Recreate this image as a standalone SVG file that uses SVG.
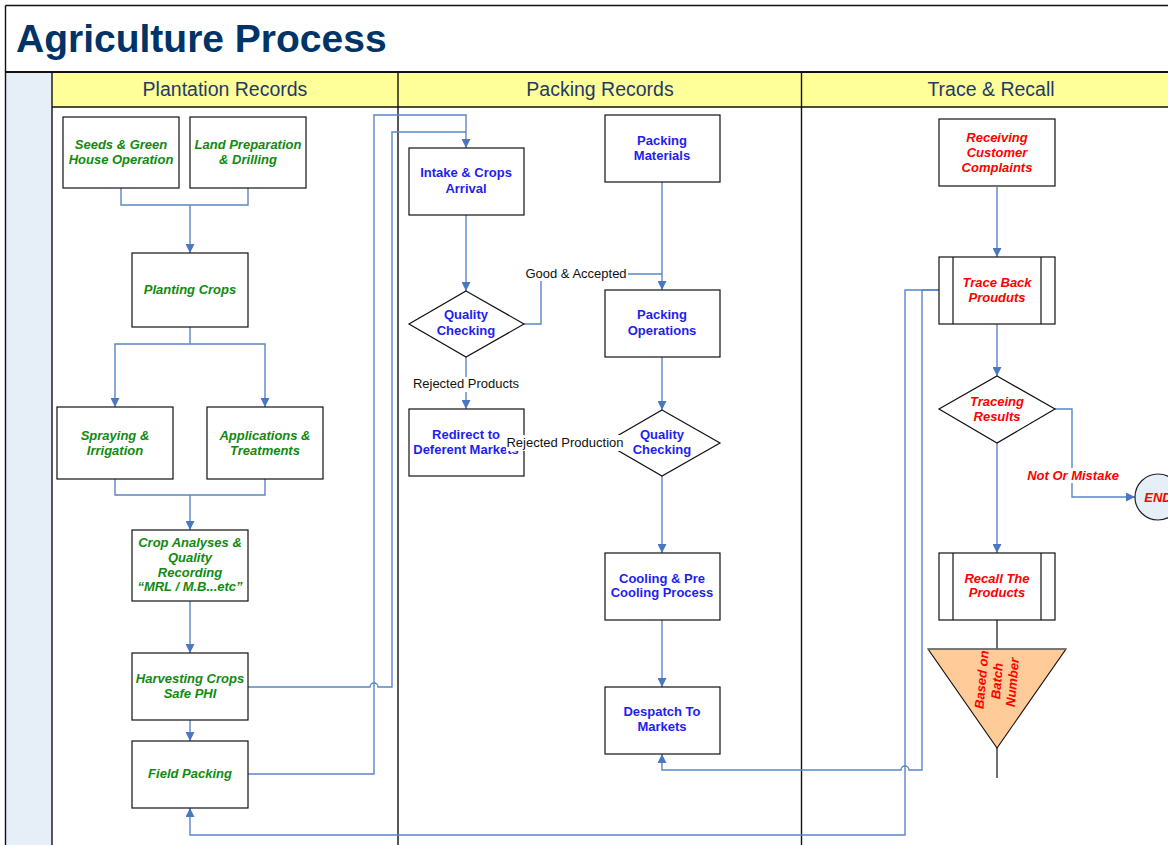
<svg xmlns="http://www.w3.org/2000/svg" width="1168" height="845" viewBox="0 0 1168 845">
<style>
text{font-family:"Liberation Sans",Arial,sans-serif}
.title{font-size:39px;font-weight:bold;fill:#003366}
.lane{font-size:19.5px;fill:#1F3A66;text-anchor:middle}
.box{fill:#fff;stroke:#111;stroke-width:1.2}
.g{font-size:13px;font-weight:bold;font-style:italic;fill:#118A11;text-anchor:middle}
.b{font-size:13px;font-weight:bold;fill:#1E1EF0;text-anchor:middle}
.r{font-size:13px;font-weight:bold;font-style:italic;fill:#FF0000;text-anchor:middle}
.lbl{font-size:13px;fill:#111;text-anchor:middle}
.c{fill:none;stroke:#5A86C8;stroke-width:1.4}
.bg{fill:#fff}
.frame{stroke:#111;stroke-width:1.4;fill:none}
</style>
<defs>
<marker id="ah" viewBox="0 0 10 10" refX="10" refY="5" markerWidth="9" markerHeight="9" markerUnits="userSpaceOnUse" orient="auto">
<path d="M0,0 L10,5 L0,10 z" fill="#4A78C0"/>
</marker>
</defs>
<rect x="0" y="0" width="1168" height="845" fill="#fff"/>
<g id="frame">
<rect x="5.5" y="72" width="46.5" height="773" fill="#E6EEF8"/>
<rect x="52" y="72" width="1116" height="35" fill="#FFFF99"/>
<line x1="5.5" y1="5.5" x2="1168" y2="5.5" class="frame"/>
<line x1="5.5" y1="5.5" x2="5.5" y2="845" class="frame"/>
<line x1="5.5" y1="72" x2="1168" y2="72" stroke="#111" stroke-width="2"/>
<line x1="52" y1="107" x2="1168" y2="107" class="frame"/>
<line x1="52" y1="72" x2="52" y2="845" class="frame"/>
<line x1="398" y1="72" x2="398" y2="845" class="frame"/>
<line x1="801.5" y1="72" x2="801.5" y2="845" class="frame"/>
<text x="16" y="52" class="title">Agriculture Process</text>
<text x="225" y="96" class="lane">Plantation Records</text>
<text x="600" y="96" class="lane">Packing Records</text>
<text x="991" y="96" class="lane">Trace &amp; Recall</text>
</g>
<g id="connectors">
<path class="c" d="M121,188 V205 H248 V188"/>
<path class="c" d="M190,205 V253" marker-end="url(#ah)"/>
<path class="c" d="M190,327 V344 H115 V407" marker-end="url(#ah)"/>
<path class="c" d="M190,344 H265 V407" marker-end="url(#ah)"/>
<path class="c" d="M115,479 V495 H265 V479"/>
<path class="c" d="M190,495 V530" marker-end="url(#ah)"/>
<path class="c" d="M190,601 V653" marker-end="url(#ah)"/>
<path class="c" d="M190,720 V741" marker-end="url(#ah)"/>
<path class="c" d="M248,687 H370 A4,4 0 0 1 378,687 H392 V132 H466"/>
<path class="c" d="M248,774 H374 V115 H466 V148" marker-end="url(#ah)"/>
<path class="c" d="M466,215 V291" marker-end="url(#ah)"/>
<path class="c" d="M524,324 H541 V274 H662"/>
<path class="c" d="M662,182 V290" marker-end="url(#ah)"/>
<path class="c" d="M466,357 V409" marker-end="url(#ah)"/>
<path class="c" d="M662,357 V410" marker-end="url(#ah)"/>
<path class="c" d="M605,443 H524" marker-end="url(#ah)"/>
<path class="c" d="M662,476 V553" marker-end="url(#ah)"/>
<path class="c" d="M662,620 V687" marker-end="url(#ah)"/>
<path class="c" d="M997,187 V257" marker-end="url(#ah)"/>
<path class="c" d="M997,324 V376" marker-end="url(#ah)"/>
<path class="c" d="M997,443 V553" marker-end="url(#ah)"/>
<path class="c" d="M1055,409 H1072 V497 H1135" marker-end="url(#ah)"/>
<path class="c" d="M939,290 H922 V770 H909 A4,4 0 0 0 901,770 H662 V754" marker-end="url(#ah)"/>
<path class="c" d="M939,290 H905 V835 H190 V808" marker-end="url(#ah)"/>
<path d="M997,620 V649 M997,748 V778" stroke="#111" stroke-width="1.2" fill="none"/>
</g>
<g id="seeds"><rect class="box" x="63" y="117" width="116" height="71"/><text class="g" x="121" y="149">Seeds &amp; Green</text><text class="g" x="121" y="164">House Operation</text></g>
<g id="land"><rect class="box" x="190" y="117" width="116" height="71"/><text class="g" x="248" y="149">Land Preparation</text><text class="g" x="248" y="164">&amp; Drilling</text></g>
<g id="planting"><rect class="box" x="132" y="253" width="116" height="74"/><text class="g" x="190" y="294">Planting Crops</text></g>
<g id="spraying"><rect class="box" x="57" y="407" width="116" height="72"/><text class="g" x="115" y="440">Spraying &amp;</text><text class="g" x="115" y="455">Irrigation</text></g>
<g id="applications"><rect class="box" x="207" y="407" width="116" height="72"/><text class="g" x="265" y="440">Applications &amp;</text><text class="g" x="265" y="455">Treatments</text></g>
<g id="analyses"><rect class="box" x="132" y="530" width="116" height="71"/><text class="g" x="190" y="547">Crop Analyses &amp;</text><text class="g" x="190" y="562">Quality</text><text class="g" x="190" y="577">Recording</text><text class="g" x="190" y="591">“MRL / M.B...etc”</text></g>
<g id="harvesting"><rect class="box" x="132" y="653" width="116" height="67"/><text class="g" x="190" y="683">Harvesting Crops</text><text class="g" x="190" y="698">Safe PHI</text></g>
<g id="fieldpacking"><rect class="box" x="132" y="741" width="116" height="67"/><text class="g" x="190" y="778">Field Packing</text></g>
<g id="intake"><rect class="box" x="409" y="148" width="115" height="67"/><text class="b" x="466" y="177">Intake &amp; Crops</text><text class="b" x="466" y="193">Arrival</text></g>
<g id="qc1"><polygon class="box" points="466,291 524,324 466,357 409,324"/><text class="b" x="466" y="319">Quality</text><text class="b" x="466" y="335">Checking</text></g>
<g id="redirect"><rect class="box" x="409" y="409" width="115" height="67"/><text class="b" x="466" y="439">Redirect to</text><text class="b" x="466" y="454">Deferent Markets</text></g>
<g id="packmat"><rect class="box" x="605" y="115" width="115" height="67"/><text class="b" x="662" y="145">Packing</text><text class="b" x="662" y="160">Materials</text></g>
<g id="packops"><rect class="box" x="605" y="290" width="115" height="67"/><text class="b" x="662" y="319">Packing</text><text class="b" x="662" y="335">Operations</text></g>
<g id="qc2"><polygon class="box" points="662,410 720,443 662,476 605,443"/><text class="b" x="662" y="439">Quality</text><text class="b" x="662" y="454">Checking</text></g>
<g id="cooling"><rect class="box" x="605" y="553" width="115" height="67"/><text class="b" x="662" y="583">Cooling &amp; Pre</text><text class="b" x="662" y="597">Cooling Process</text></g>
<g id="despatch"><rect class="box" x="605" y="687" width="115" height="67"/><text class="b" x="662" y="716">Despatch To</text><text class="b" x="662" y="731">Markets</text></g>
<g id="receiving"><rect class="box" x="939" y="119" width="116" height="67"/><text class="r" x="997" y="142">Receiving</text><text class="r" x="997" y="157">Customer</text><text class="r" x="997" y="172">Complaints</text></g>
<g id="traceback"><rect class="box" x="939" y="257" width="116" height="67"/><line x1="953" y1="257" x2="953" y2="324" stroke="#111" stroke-width="1.2"/><line x1="1041" y1="257" x2="1041" y2="324" stroke="#111" stroke-width="1.2"/><text class="r" x="997" y="287">Trace Back</text><text class="r" x="997" y="302">Prouduts</text></g>
<g id="traceing"><polygon class="box" points="997,376 1055,409 997,443 939,409"/><text class="r" x="997" y="406">Traceing</text><text class="r" x="997" y="421">Results</text></g>
<g id="end"><circle cx="1158" cy="497" r="23" fill="#E6EEF8" stroke="#222" stroke-width="1.2"/><text class="r" x="1158" y="502">END</text></g>
<g id="recall"><rect class="box" x="939" y="553" width="116" height="67"/><line x1="953" y1="553" x2="953" y2="620" stroke="#111" stroke-width="1.2"/><line x1="1041" y1="553" x2="1041" y2="620" stroke="#111" stroke-width="1.2"/><text class="r" x="997" y="583">Recall The</text><text class="r" x="997" y="597">Products</text></g>
<g id="batch"><polygon points="928,649 1066,649 997,748" fill="#FFCC99" stroke="#111" stroke-width="1.1"/><line x1="928" y1="649" x2="1066" y2="649" stroke="#777" stroke-width="1.6"/>
<g transform="translate(997,681) rotate(-85)"><text class="r" x="0" y="-11">Based on</text><text class="r" x="0" y="4.5">Batch</text><text class="r" x="0" y="20">Number</text></g></g>
<g id="labels">
<rect class="bg" x="524" y="266" width="104" height="15"/><text class="lbl" x="576" y="278">Good &amp; Accepted</text>
<rect class="bg" x="413" y="377" width="107" height="15"/><text class="lbl" x="466" y="388">Rejected Products</text>
<rect class="bg" x="506" y="435" width="118" height="16"/><text class="lbl" x="565" y="447">Rejected Production</text>
<rect class="bg" x="1026" y="468" width="94" height="15"/><text class="r" x="1073" y="480">Not Or Mistake</text>
</g>
</svg>
